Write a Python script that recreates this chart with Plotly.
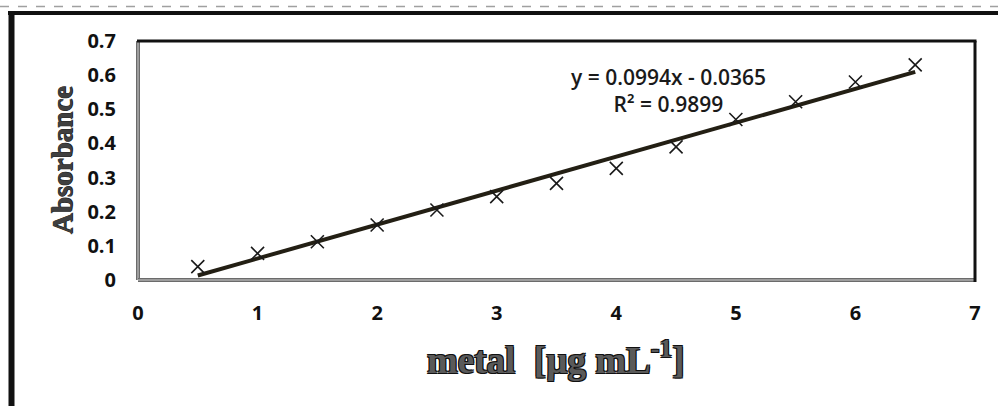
import plotly.graph_objects as go

# ---- data ----
concentration = [0.5, 1.0, 1.5, 2.0, 2.5, 3.0, 3.5, 4.0, 4.5, 5.0, 5.5, 6.0, 6.5]
absorbance = [0.039, 0.078, 0.112, 0.161, 0.205, 0.244, 0.283, 0.327, 0.390, 0.470, 0.522, 0.580, 0.630]
slope = 0.0994
intercept = -0.0365
equation_text = "y = 0.0994x - 0.0365<br>R² = 0.9899"
x_ticks = [0, 1, 2, 3, 4, 5, 6, 7]
y_ticks = [0, 0.1, 0.2, 0.3, 0.4, 0.5, 0.6, 0.7]
x_title = "metal  [µg mL<sup>-1</sup>]"
y_title = "Absorbance"

W, H = 998, 406
L, R, T, B = 138, 975, 41, 280


def px(x):
    return (x - L) / (R - L)


def py(y):
    return (B - y) / (B - T)


trend_x = [concentration[0], concentration[-1]]
trend_y = [slope * v + intercept for v in trend_x]

fig = go.Figure()
fig.add_trace(go.Scatter(
    x=trend_x, y=trend_y, mode="lines",
    line=dict(color="#231f14", width=4), showlegend=False, hoverinfo="skip"))
fig.add_trace(go.Scatter(
    x=concentration, y=absorbance, mode="markers",
    marker=dict(symbol="x-thin", size=13, line=dict(color="#1a1a1a", width=1.6)),
    showlegend=False))

tick_font = dict(family="Open Sans", size=20, color="#111111", weight="bold")

fig.update_xaxes(range=[0, 7], tickvals=x_ticks, ticktext=[str(v) for v in x_ticks],
                 showgrid=False, zeroline=False, showline=False, ticks="",
                 tickfont=tick_font, ticklabelstandoff=19)
fig.update_yaxes(range=[0, 0.7], tickvals=y_ticks,
                 ticktext=["0" if v == 0 else f"{v:.1f}" for v in y_ticks],
                 showgrid=False, zeroline=False, showline=False, ticks="",
                 tickfont=tick_font, ticklabelstandoff=21)

outline = "1px 1px 0 #111, -1px -1px 0 #111, 1px -1px 0 #111, -1px 1px 0 #111"
fig.add_annotation(text=x_title, xref="paper", yref="paper", x=px(556), y=py(357),
                   showarrow=False, xanchor="center", yanchor="middle",
                   font=dict(family="Liberation Serif", size=37, color="#5a5a5a",
                             weight="bold", shadow=outline))
fig.add_annotation(text=y_title, xref="paper", yref="paper", x=px(62), y=py(160),
                   showarrow=False, xanchor="center", yanchor="middle", textangle=-90,
                   font=dict(family="Liberation Serif", size=29, color="#404040",
                             weight="bold", shadow="0.5px 0.5px 0 #222, -0.5px -0.5px 0 #222"))
fig.add_annotation(text=equation_text, xref="paper", yref="paper", x=px(668), y=py(90),
                   showarrow=False, xanchor="center", yanchor="middle", align="center",
                   font=dict(family="Open Sans", size=21, color="#1a1a1a", weight=600))

shapes = []
# outer frame
shapes.append(dict(type="line", xref="paper", yref="paper", x0=px(0), x1=px(W),
                   y0=py(6.5), y1=py(6.5), line=dict(color="#a0a0a0", width=1.5, dash="dash")))
shapes.append(dict(type="line", xref="paper", yref="paper", x0=px(8), x1=px(W),
                   y0=py(13), y1=py(13), line=dict(color="#111111", width=4)))
shapes.append(dict(type="line", xref="paper", yref="paper", x0=px(11.5), x1=px(11.5),
                   y0=py(11), y1=py(H), line=dict(color="#111111", width=6)))
# plot frame: gray left/bottom, black top/right
for (x0, y0, x1, y1) in [(L, T, L, B), (L, B, R, B)]:
    shapes.append(dict(type="line", xref="paper", yref="paper", x0=px(x0), x1=px(x1),
                       y0=py(y0), y1=py(y1), line=dict(color="#6b6b6b", width=4)))
    shapes.append(dict(type="line", xref="paper", yref="paper", x0=px(x0), x1=px(x1),
                       y0=py(y0), y1=py(y1), line=dict(color="#d0d0d0", width=1)))
shapes.append(dict(type="line", xref="paper", yref="paper", x0=px(L - 1), x1=px(R + 1.5),
                   y0=py(T), y1=py(T), line=dict(color="#111111", width=3)))
shapes.append(dict(type="line", xref="paper", yref="paper", x0=px(R), x1=px(R),
                   y0=py(T), y1=py(B + 2), line=dict(color="#111111", width=3)))

fig.update_layout(
    width=W, height=H,
    margin=dict(l=L, r=W - R, t=T, b=H - B),
    paper_bgcolor="white", plot_bgcolor="white",
    shapes=shapes,
    showlegend=False,
)

fig.write_html("out.html")
